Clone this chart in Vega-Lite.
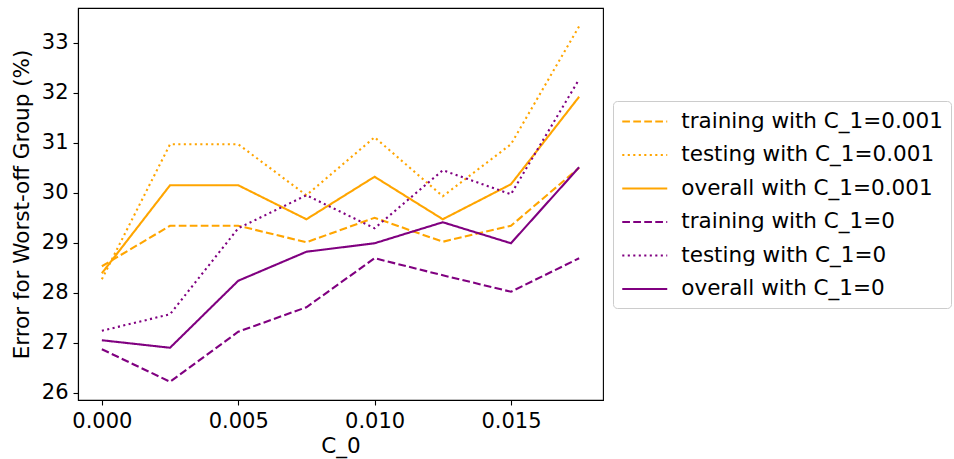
{
  "$schema": "https://vega.github.io/schema/vega-lite/v6.json",
  "autosize": "none",
  "width": 525,
  "height": 392,
  "padding": {"left": 78, "top": 8, "right": 351, "bottom": 59},
  "background": "white",
  "config": {
    "font": "DejaVu Sans",
    "view": {"stroke": "black", "strokeWidth": 1.1},
    "axis": {
      "grid": false,
      "domainColor": "black",
      "domainWidth": 1.1,
      "tickColor": "black",
      "tickWidth": 1.1,
      "tickSize": 5,
      "labelFont": "DejaVu Sans",
      "labelFontSize": 21,
      "labelColor": "black",
      "labelPadding": 5,
      "titleFont": "DejaVu Sans",
      "titleFontSize": 21.5,
      "titleFontWeight": "normal",
      "titleColor": "black"
    }
  },
  "data": {
    "values": [
      {"c0": 0.0, "series": "training with C_1=0.001", "err": 28.53},
      {"c0": 0.0025, "series": "training with C_1=0.001", "err": 29.34},
      {"c0": 0.005, "series": "training with C_1=0.001", "err": 29.34},
      {"c0": 0.0075, "series": "training with C_1=0.001", "err": 29.01},
      {"c0": 0.01, "series": "training with C_1=0.001", "err": 29.5},
      {"c0": 0.0125, "series": "training with C_1=0.001", "err": 29.02},
      {"c0": 0.015, "series": "training with C_1=0.001", "err": 29.34},
      {"c0": 0.0175, "series": "training with C_1=0.001", "err": 30.5},
      {"c0": 0.0, "series": "testing with C_1=0.001", "err": 28.27},
      {"c0": 0.0025, "series": "testing with C_1=0.001", "err": 30.97},
      {"c0": 0.005, "series": "testing with C_1=0.001", "err": 30.97},
      {"c0": 0.0075, "series": "testing with C_1=0.001", "err": 29.95},
      {"c0": 0.01, "series": "testing with C_1=0.001", "err": 31.11},
      {"c0": 0.0125, "series": "testing with C_1=0.001", "err": 29.93},
      {"c0": 0.015, "series": "testing with C_1=0.001", "err": 30.97},
      {"c0": 0.0175, "series": "testing with C_1=0.001", "err": 33.33},
      {"c0": 0.0, "series": "overall with C_1=0.001", "err": 28.39},
      {"c0": 0.0025, "series": "overall with C_1=0.001", "err": 30.15},
      {"c0": 0.005, "series": "overall with C_1=0.001", "err": 30.15},
      {"c0": 0.0075, "series": "overall with C_1=0.001", "err": 29.47},
      {"c0": 0.01, "series": "overall with C_1=0.001", "err": 30.32},
      {"c0": 0.0125, "series": "overall with C_1=0.001", "err": 29.47},
      {"c0": 0.015, "series": "overall with C_1=0.001", "err": 30.17},
      {"c0": 0.0175, "series": "overall with C_1=0.001", "err": 31.92},
      {"c0": 0.0, "series": "training with C_1=0", "err": 26.87},
      {"c0": 0.0025, "series": "training with C_1=0", "err": 26.22},
      {"c0": 0.005, "series": "training with C_1=0", "err": 27.22},
      {"c0": 0.0075, "series": "training with C_1=0", "err": 27.71},
      {"c0": 0.01, "series": "training with C_1=0", "err": 28.69},
      {"c0": 0.0125, "series": "training with C_1=0", "err": 28.35},
      {"c0": 0.015, "series": "training with C_1=0", "err": 28.02},
      {"c0": 0.0175, "series": "training with C_1=0", "err": 28.69},
      {"c0": 0.0, "series": "testing with C_1=0", "err": 27.24},
      {"c0": 0.0025, "series": "testing with C_1=0", "err": 27.57},
      {"c0": 0.005, "series": "testing with C_1=0", "err": 29.29},
      {"c0": 0.0075, "series": "testing with C_1=0", "err": 29.95},
      {"c0": 0.01, "series": "testing with C_1=0", "err": 29.29},
      {"c0": 0.0125, "series": "testing with C_1=0", "err": 30.45},
      {"c0": 0.015, "series": "testing with C_1=0", "err": 29.97},
      {"c0": 0.0175, "series": "testing with C_1=0", "err": 32.27},
      {"c0": 0.0, "series": "overall with C_1=0", "err": 27.05},
      {"c0": 0.0025, "series": "overall with C_1=0", "err": 26.9},
      {"c0": 0.005, "series": "overall with C_1=0", "err": 28.24},
      {"c0": 0.0075, "series": "overall with C_1=0", "err": 28.82},
      {"c0": 0.01, "series": "overall with C_1=0", "err": 28.99},
      {"c0": 0.0125, "series": "overall with C_1=0", "err": 29.41},
      {"c0": 0.015, "series": "overall with C_1=0", "err": 28.99},
      {"c0": 0.0175, "series": "overall with C_1=0", "err": 30.51}
    ]
  },
  "mark": {"type": "line", "strokeWidth": 2.1, "strokeCap": "butt", "clip": true},
  "encoding": {
    "x": {
      "field": "c0",
      "type": "quantitative",
      "title": "C_0",
      "scale": {"domain": [-0.000875, 0.018375], "nice": false, "zero": false},
      "axis": {"values": [0, 0.005, 0.01, 0.015], "format": ".3f", "titlePadding": 4}
    },
    "y": {
      "field": "err",
      "type": "quantitative",
      "title": "Error for Worst-off Group (%)",
      "scale": {"domain": [25.855, 33.695], "nice": false, "zero": false},
      "axis": {"values": [26, 27, 28, 29, 30, 31, 32, 33], "titlePadding": 8}
    },
    "color": {
      "field": "series",
      "type": "nominal",
      "title": null,
      "scale": {
        "domain": ["training with C_1=0.001", "testing with C_1=0.001", "overall with C_1=0.001", "training with C_1=0", "testing with C_1=0", "overall with C_1=0"],
        "range": ["#FFA500", "#FFA500", "#FFA500", "#800080", "#800080", "#800080"]
      },
      "legend": {
        "orient": "none",
        "legendX": 535,
        "legendY": 93,
        "symbolType": "M-2,0H2",
        "symbolSize": 506,
        "symbolOffset": 11.25,
        "symbolStrokeWidth": 2.1,
        "labelFontSize": 21.5,
        "labelFont": "DejaVu Sans",
        "labelColor": "black",
        "labelOffset": 24,
        "labelLimit": 400,
        "padding": 8,
        "rowPadding": 10.5,
        "strokeColor": "#cccccc",
        "fillColor": "white",
        "cornerRadius": 4
      }
    },
    "strokeDash": {
      "field": "series",
      "type": "nominal",
      "title": null,
      "scale": {
        "domain": ["training with C_1=0.001", "testing with C_1=0.001", "overall with C_1=0.001", "training with C_1=0", "testing with C_1=0", "overall with C_1=0"],
        "range": [[7.7, 3.3], [2.1, 3.4], [1, 0], [7.7, 3.3], [2.1, 3.4], [1, 0]]
      }
    }
  }
}
